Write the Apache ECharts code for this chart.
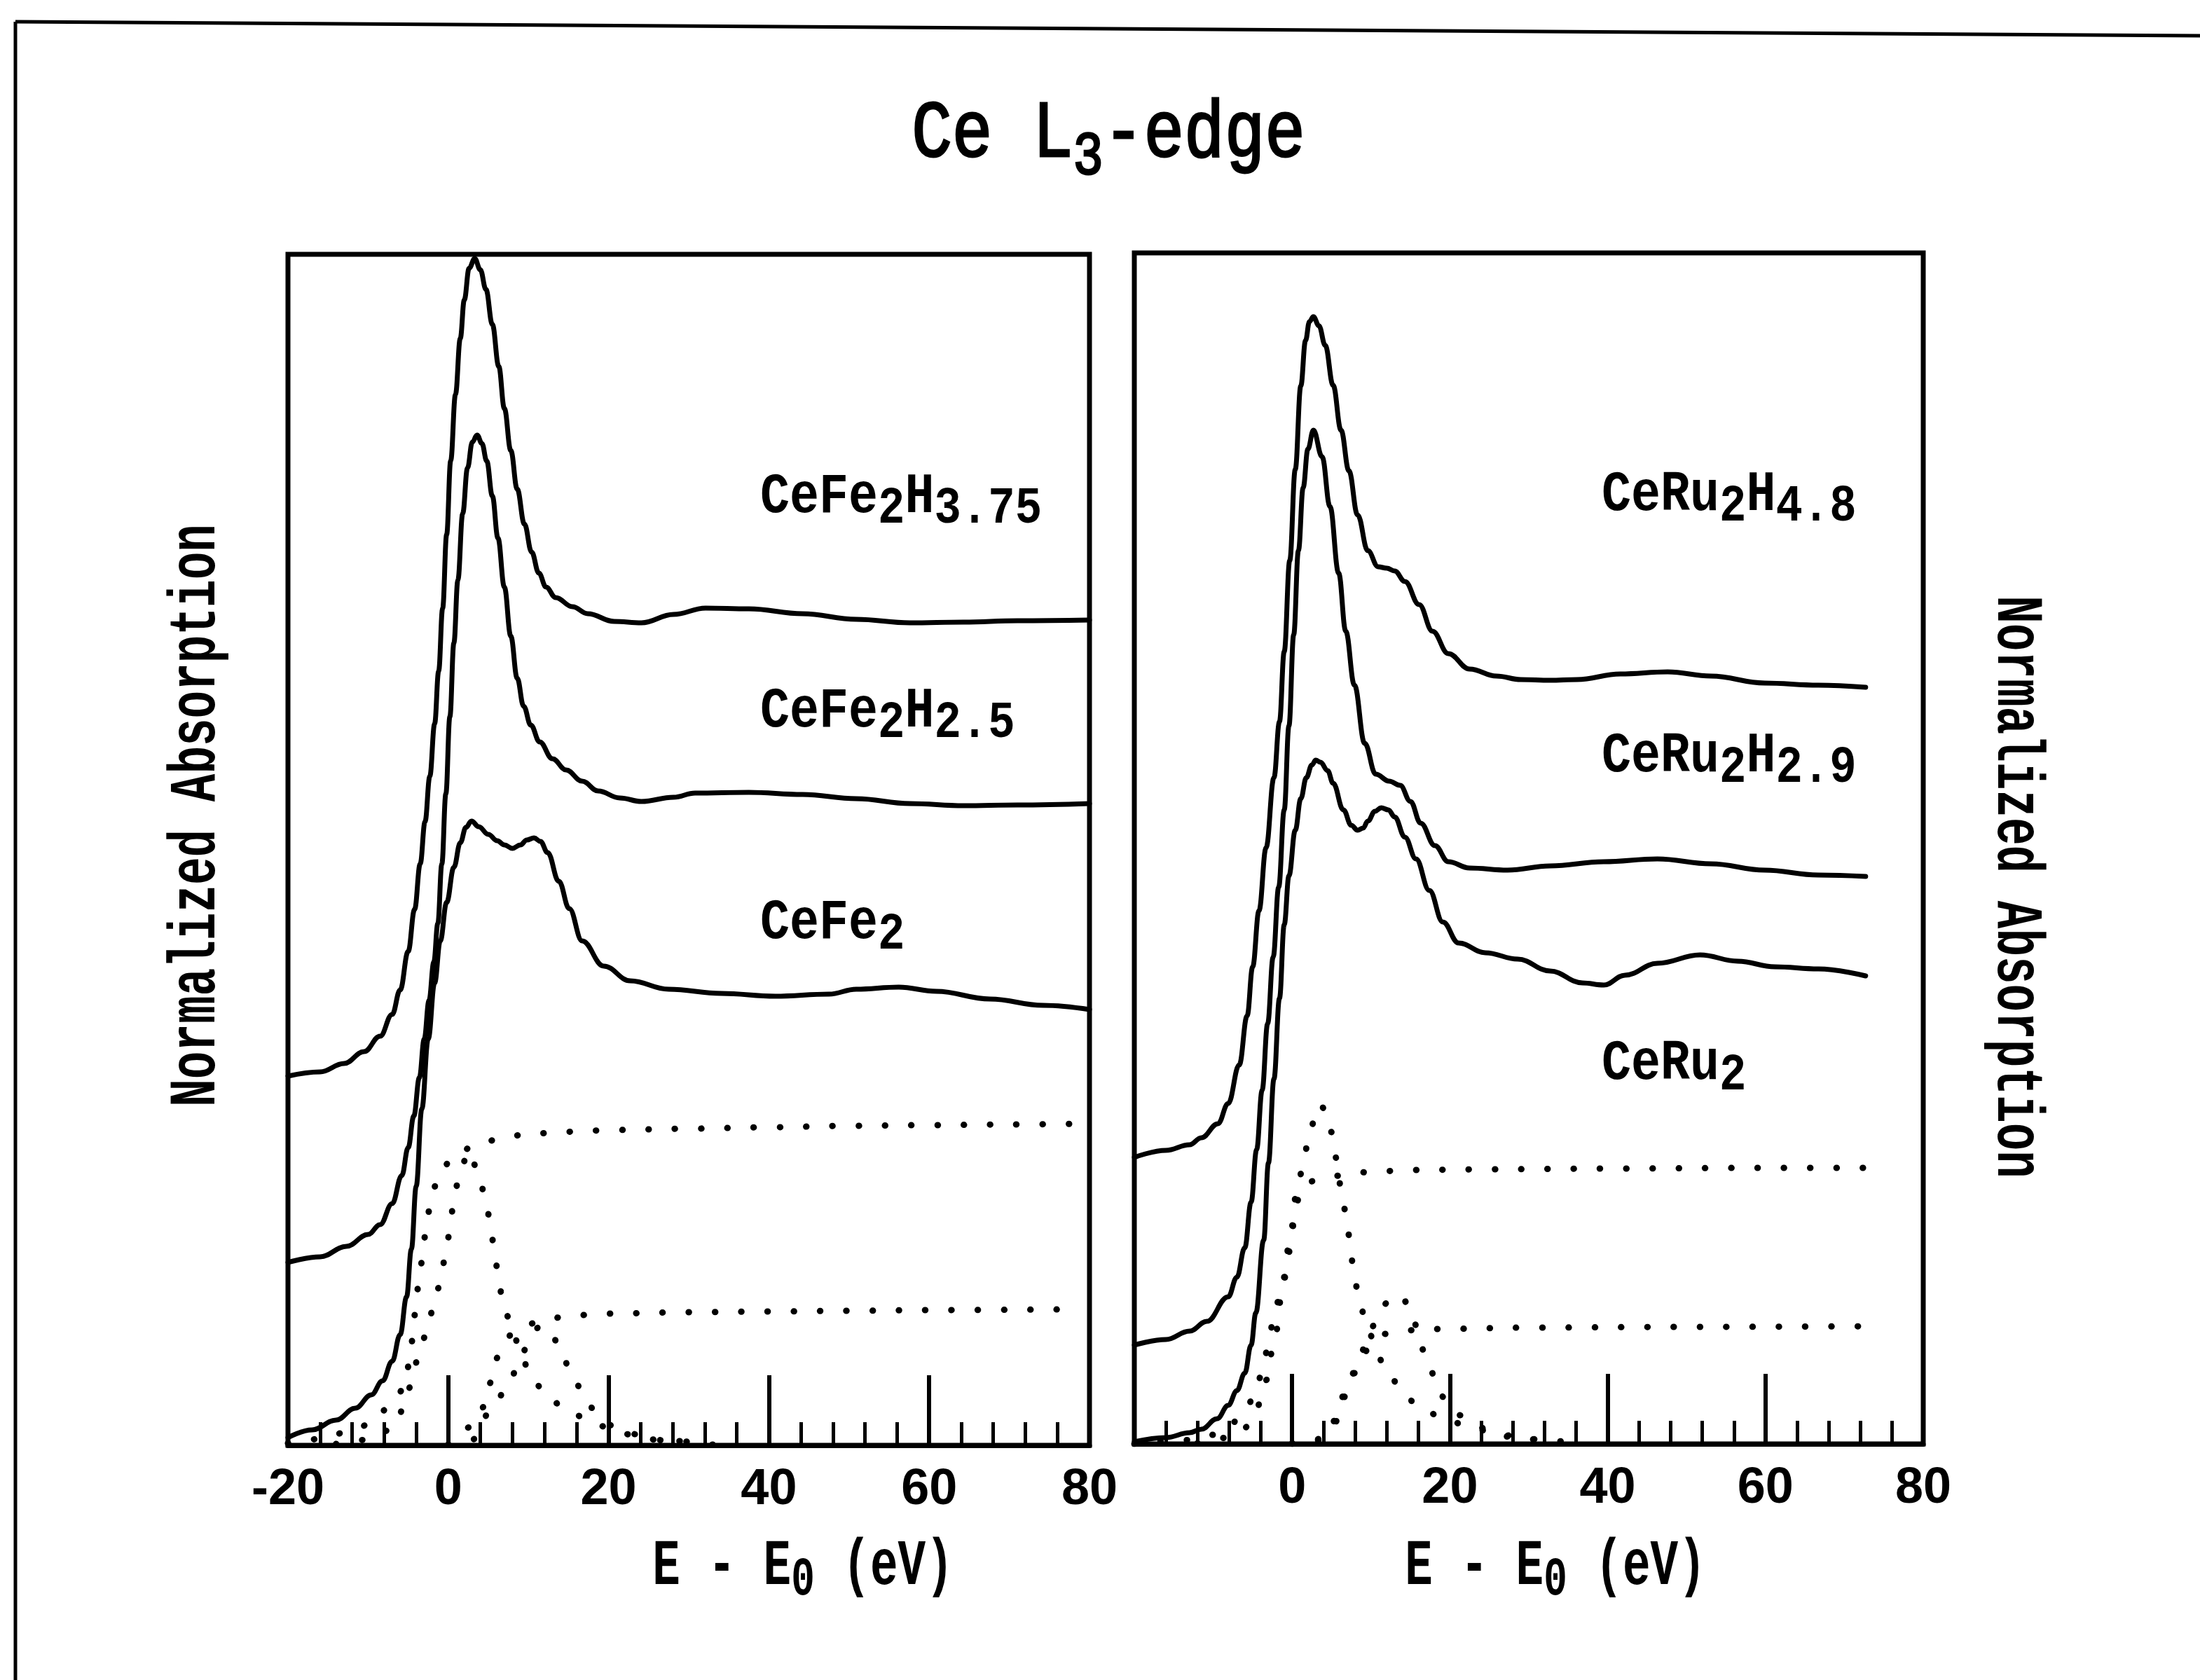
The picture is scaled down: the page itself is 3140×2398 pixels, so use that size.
<!DOCTYPE html>
<html>
<head>
<meta charset="utf-8">
<script src="https://cdn.jsdelivr.net/npm/echarts@6/dist/echarts.min.js"></script>
<style>
  html, body { margin: 0; padding: 0; background: #ffffff; }
  #chart { width: 3140px; height: 2398px; }
</style>
</head>
<body>
<div id="chart"></div>
<script>
// Energy axis, E - E0 (eV), shared by both panels
const energyTicks = [-20, 0, 20, 40, 60, 80];

// Absorption traces are stacked with vertical offsets (arbitrary units, 0..17 per panel)

// ---- CeFe2 hydrides ----
const feH375E = [-20, -16, -13, -10.5, -8.5, -7.0, -6.0, -5.0, -4.2, -3.5, -2.9, -2.3, -1.7, -1.2, -0.7, -0.2, 0.3, 0.9, 1.5, 2.0, 2.6, 3.3, 4.0, 4.7, 5.5, 6.3, 7.0, 7.8, 8.6, 9.5, 10.4, 11.3, 12.2, 13.4, 15.5, 17.4, 20.7, 24.1, 28.1, 32.1, 37.5, 44.2, 50.9, 57.6, 64.3, 71, 80];
const feH375 = [5.27, 5.33, 5.45, 5.62, 5.84, 6.15, 6.50, 7.05, 7.65, 8.30, 8.90, 9.55, 10.30, 11.05, 11.95, 13.00, 14.05, 15.00, 15.80, 16.35, 16.80, 16.94, 16.78, 16.50, 16.00, 15.40, 14.80, 14.20, 13.65, 13.15, 12.75, 12.45, 12.25, 12.10, 11.97, 11.87, 11.76, 11.74, 11.86, 11.95, 11.94, 11.87, 11.79, 11.74, 11.75, 11.77, 11.78];

const feH25E = [-20, -16, -12.7, -10, -8.5, -7.0, -5.8, -5.0, -4.3, -3.6, -3.0, -2.4, -1.8, -1.3, -0.8, -0.3, 0.2, 0.7, 1.2, 1.8, 2.4, 3.0, 3.6, 4.2, 4.8, 5.5, 6.2, 7.0, 7.8, 8.6, 9.4, 10.3, 11.4, 13.0, 14.7, 16.7, 18.7, 21.4, 24.1, 28.1, 30.8, 37.5, 44.2, 50.9, 57.6, 64.3, 71, 80];
const feH25 = [2.61, 2.69, 2.84, 3.01, 3.15, 3.45, 3.85, 4.25, 4.70, 5.25, 5.80, 6.35, 6.90, 7.45, 8.30, 9.30, 10.40, 11.45, 12.35, 13.30, 13.95, 14.32, 14.42, 14.30, 14.05, 13.55, 12.95, 12.25, 11.55, 10.95, 10.55, 10.28, 10.04, 9.80, 9.64, 9.48, 9.34, 9.24, 9.19, 9.25, 9.31, 9.32, 9.29, 9.23, 9.16, 9.13, 9.14, 9.16];

const fe2E = [-20, -17, -14, -11.6, -9.6, -8.2, -7.0, -6.0, -5.2, -4.6, -4.0, -3.3, -2.5, -1.7, -1.0, -0.2, 0.7, 1.5, 2.2, 2.9, 3.8, 5.0, 6.1, 7.0, 8.0, 9.0, 9.8, 10.7, 11.5, 12.4, 13.8, 15.1, 16.7, 19.4, 22.7, 27.5, 34.1, 40.8, 47.5, 50.9, 56.2, 60.9, 67.6, 74.2, 80];
const fe2 = [0.11, 0.22, 0.36, 0.53, 0.72, 0.92, 1.20, 1.58, 2.12, 2.80, 3.70, 4.80, 5.80, 6.60, 7.20, 7.75, 8.25, 8.60, 8.82, 8.91, 8.83, 8.72, 8.63, 8.57, 8.52, 8.57, 8.64, 8.67, 8.62, 8.46, 8.05, 7.66, 7.20, 6.84, 6.63, 6.51, 6.45, 6.41, 6.44, 6.51, 6.54, 6.48, 6.37, 6.28, 6.22];

// CeFe2 fit components: two arctangent steps and two white-line peaks
const feStepAE = [-20, -16, -12, -9, -7.6, -6.5, -5.5, -4.8, -4.4, -4.1, -3.7, -3.2, -2.8, -2.2, -1.3, 0.6, 3.5, 6.6, 9.7, 13, 16.1, 20, 30, 40, 50, 60, 70, 79];
const feStepA = [0.03, 0.09, 0.21, 0.35, 0.54, 0.68, 0.83, 1.20, 1.57, 1.94, 2.31, 2.68, 3.09, 3.46, 3.83, 4.12, 4.29, 4.38, 4.44, 4.46, 4.48, 4.50, 4.52, 4.54, 4.56, 4.57, 4.58, 4.59];
const fePeakAE = [-14, -10, -7, -5.5, -4.6, -3.9, -2.8, -1.9, -1.0, -0.4, 0.2, 0.6, 1.3, 2.5, 3.8, 4.6, 5.3, 5.7, 6.3, 6.8, 8.1, 9.0, 10.5, 12.5, 15.4, 18.7, 22, 26, 32];
const fePeakA = [0.02, 0.08, 0.23, 0.53, 0.88, 1.20, 1.57, 1.94, 2.31, 2.68, 3.05, 3.42, 3.81, 4.20, 3.90, 3.53, 3.16, 2.79, 2.38, 2.01, 1.63, 1.29, 0.94, 0.66, 0.45, 0.28, 0.16, 0.08, 0.02];
const feStepBE = [0, 2.8, 4.6, 5.4, 6.3, 7.9, 9.0, 10.1, 11.4, 14.4, 17, 20, 30, 40, 50, 60, 77];
const feStepB = [0.01, 0.26, 0.56, 0.93, 1.30, 1.58, 1.68, 1.73, 1.78, 1.83, 1.86, 1.88, 1.90, 1.91, 1.92, 1.93, 1.94];
const fePeakBE = [0, 3, 5.4, 7.3, 8.8, 10.1, 11.5, 12.8, 13.8, 15.3, 16.9, 18.5, 20.5, 23, 27, 33];
const fePeakB = [0.01, 0.08, 0.51, 0.81, 1.15, 1.51, 1.71, 1.63, 1.41, 1.06, 0.72, 0.45, 0.28, 0.16, 0.07, 0.01];

// ---- CeRu2 hydrides ----
const ruH48E = [-20, -16, -13, -11.5, -9.4, -8.1, -6.7, -5.7, -5.0, -4.2, -3.3, -2.3, -1.6, -1.0, -0.3, 0.4, 1.1, 1.7, 2.2, 2.7, 3.4, 4.2, 5.2, 6.2, 7.2, 8.3, 9.6, 10.9, 12.0, 13.0, 14.3, 16.1, 17.8, 19.8, 22.5, 25.9, 29, 32.7, 36.1, 41.6, 47.6, 53.1, 59.9, 66.7, 72.7];
const ruH48 = [4.09, 4.19, 4.27, 4.37, 4.57, 4.86, 5.41, 6.11, 6.81, 7.61, 8.51, 9.51, 10.31, 11.31, 12.61, 13.91, 15.10, 15.75, 16.02, 16.09, 15.96, 15.68, 15.11, 14.47, 13.89, 13.26, 12.75, 12.52, 12.50, 12.46, 12.31, 11.98, 11.60, 11.28, 11.06, 10.96, 10.91, 10.90, 10.91, 10.99, 11.02, 10.96, 10.86, 10.83, 10.80];

const ruH29E = [-20, -16, -13, -10.8, -8.1, -7.0, -6.0, -5.2, -4.5, -3.8, -3.1, -2.4, -1.7, -1.0, -0.4, 0.2, 0.8, 1.4, 2.0, 2.7, 3.8, 4.8, 5.9, 6.8, 7.9, 9.2, 10.6, 12.3, 13.7, 15.0, 16.3, 18.1, 19.8, 22.5, 27.3, 32.7, 39.5, 46.3, 53.1, 59.9, 66.7, 72.7];
const ruH29 = [1.41, 1.49, 1.61, 1.75, 2.10, 2.38, 2.80, 3.45, 4.20, 5.05, 6.00, 6.95, 7.95, 9.05, 10.25, 11.55, 12.75, 13.65, 14.20, 14.47, 14.09, 13.38, 12.43, 11.60, 10.83, 10.00, 9.56, 9.46, 9.40, 9.17, 8.86, 8.54, 8.31, 8.22, 8.19, 8.25, 8.31, 8.35, 8.28, 8.19, 8.12, 8.10];

const ru2E = [-20, -16, -13, -11.5, -9.5, -8.1, -7.0, -6.0, -5.2, -4.6, -3.6, -3.0, -2.3, -1.6, -1.0, -0.4, 0.4, 1.1, 1.8, 2.5, 3.0, 3.6, 4.5, 5.2, 6.5, 7.5, 8.3, 9.0, 9.6, 10.5, 11.3, 12.2, 13.0, 14.3, 15.7, 17.4, 19.1, 21.1, 24.5, 28.6, 32.7, 36.8, 39.5, 42.2, 46.3, 51.7, 56.5, 61.2, 66.7, 72.7];
const ru2 = [0.03, 0.09, 0.16, 0.21, 0.36, 0.55, 0.76, 1.01, 1.41, 1.87, 2.91, 4.01, 5.21, 6.36, 7.41, 8.11, 8.76, 9.21, 9.51, 9.69, 9.76, 9.73, 9.61, 9.43, 9.05, 8.83, 8.76, 8.79, 8.89, 9.03, 9.08, 9.05, 8.95, 8.66, 8.35, 7.90, 7.45, 7.15, 7.01, 6.92, 6.75, 6.58, 6.55, 6.69, 6.86, 6.98, 6.89, 6.81, 6.78, 6.68];

// CeRu2 fit components
const ruStepAE = [-20, -14, -10, -8, -6, -4.7, -3.6, -3.0, -2.3, -1.4, -0.6, -0.1, 0.4, 1.1, 2.0, 3.1, 6.2, 9.6, 15, 25, 40, 60, 75];
const ruStepA = [0.00, 0.05, 0.13, 0.26, 0.46, 0.71, 1.12, 1.47, 1.81, 2.21, 2.56, 2.96, 3.33, 3.66, 3.73, 3.77, 3.83, 3.88, 3.91, 3.92, 3.93, 3.94, 3.94];
const ruPeakAE = [-12, -8, -6, -4.5, -3.3, -2.2, -1.2, -0.3, 0.6, 1.6, 2.1, 3.5, 4.5, 5.0, 5.6, 6.2, 6.8, 7.3, 7.7, 8.3, 9.2, 10.4, 11.6, 13.9, 15.8, 19.0, 22.5, 26, 30, 36];
const ruPeakA = [0.01, 0.09, 0.23, 0.51, 0.91, 1.51, 2.21, 2.91, 3.61, 4.11, 4.45, 4.85, 4.71, 4.45, 4.08, 3.65, 3.30, 2.93, 2.56, 2.19, 1.81, 1.46, 1.12, 0.78, 0.55, 0.38, 0.24, 0.14, 0.07, 0.01];
const ruStepBE = [0, 3, 5, 5.7, 6.8, 7.9, 9.1, 10.5, 11.8, 14, 18.4, 30, 50, 74];
const ruStepB = [0.01, 0.06, 0.21, 0.33, 0.69, 1.01, 1.31, 1.48, 1.57, 1.62, 1.64, 1.66, 1.67, 1.68];
const ruPeakBE = [0, 3, 5.0, 5.7, 7.0, 8.2, 9.5, 10.8, 12.0, 13.7, 14.9, 15.4, 16.2, 17.5, 18.5, 19.8, 21.2, 23, 25, 28, 33];
const ruPeakB = [0.00, 0.04, 0.21, 0.51, 0.81, 1.11, 1.46, 1.81, 2.01, 2.13, 1.96, 1.78, 1.41, 1.07, 0.76, 0.56, 0.41, 0.28, 0.19, 0.09, 0.02];

// ---- helpers ----
const INK = '#000000';
const MONO = 'Liberation Mono';
const pairs = (xs, ys) => xs.map((x, i) => [x, ys[i]]);

function solidTrace(name, panel, xs, ys) {
  return {
    type: 'line', name, xAxisIndex: panel, yAxisIndex: panel,
    data: pairs(xs, ys), showSymbol: false, symbol: 'none',
    smooth: 0.4, smoothMonotone: 'x', clip: true,
    lineStyle: { color: INK, width: 7, cap: 'round', join: 'round' },
    z: 4, silent: true
  };
}
function dottedTrace(name, panel, xs, ys) {
  return {
    type: 'line', name, xAxisIndex: panel, yAxisIndex: panel,
    data: pairs(xs, ys), showSymbol: false, symbol: 'none',
    smooth: 0.35, smoothMonotone: 'x', clip: true,
    lineStyle: { color: INK, width: 9, type: [0.5, 37], cap: 'round' },
    z: 3, silent: true
  };
}

function energyAxis(panel, hideFirst) {
  return {
    type: 'value', gridIndex: panel,
    min: energyTicks[0], max: energyTicks[energyTicks.length - 1], interval: 20,
    axisLine: { show: true, onZero: false, lineStyle: { color: INK, width: 7 } },
    axisTick: { show: true, inside: true, length: 100, lineStyle: { color: INK, width: 6 } },
    minorTick: { show: true, splitNumber: 5, length: 33, lineStyle: { color: INK, width: 5 } },
    splitLine: { show: false }, minorSplitLine: { show: false },
    axisLabel: {
      show: true, margin: 28, color: INK,
      fontFamily: 'Liberation Sans', fontWeight: 'bold', fontSize: 72,
      formatter: v => (hideFirst && v === energyTicks[0]) ? '' : String(v)
    }
  };
}
function absorptionAxis(panel) {
  return { type: 'value', gridIndex: panel, min: 0, max: 17, show: false };
}

// stretched typewriter-style text block with optional subscripts
function typeText(x, y, parts, opt) {
  const ink = opt.outline ? { stroke: INK, lineWidth: opt.outline } : {};
  const rich = {
    m: Object.assign({ fontFamily: MONO, fontWeight: opt.weight, fontSize: opt.size, fill: INK, verticalAlign: 'top' }, ink),
    s: Object.assign({ fontFamily: MONO, fontWeight: opt.weight, fontSize: opt.subSize, fill: INK, verticalAlign: 'top',
         padding: [opt.subDrop, 0, 0, 0] }, ink)
  };
  const text = parts.map(p => (p.sub ? '{s|' : '{m|') + p.t + '}').join('');
  return {
    type: 'text', x, y, scaleY: opt.stretch, silent: true, z: 10,
    style: { text, rich, fill: INK, align: opt.align || 'left', verticalAlign: 'top' }
  };
}

const sampleLabelOpt = { weight: 'bold', size: 70, subSize: 64, subDrop: 18, stretch: 1.17 };
const eAxisTitleOpt = { weight: 'bold', size: 66, subSize: 56, subDrop: 18, stretch: 1.4, align: 'center' };
const eAxisTitle = [{ t: 'E - E' }, { t: '0', sub: true }, { t: ' (eV)' }];

function sideTitle(x, y, rotation) {
  return {
    type: 'text', x, y, rotation, scaleY: 1.42, silent: true, z: 10,
    style: {
      text: 'Normalized Absorption', fill: INK,
      fontFamily: MONO, fontWeight: 'bold', fontSize: 66,
      align: 'center', verticalAlign: 'middle'
    }
  };
}

const option = {
  backgroundColor: '#ffffff',
  animation: false,
  grid: [
    { left: 411, top: 363, width: 1144, height: 1700, show: true, borderColor: INK, borderWidth: 7, backgroundColor: 'transparent' },
    { left: 1619, top: 361, width: 1126, height: 1700, show: true, borderColor: INK, borderWidth: 7, backgroundColor: 'transparent' }
  ],
  xAxis: [energyAxis(0, false), energyAxis(1, true)],
  yAxis: [absorptionAxis(0), absorptionAxis(1)],
  series: [
    solidTrace('CeFe2H3.75', 0, feH375E, feH375),
    solidTrace('CeFe2H2.5', 0, feH25E, feH25),
    solidTrace('CeFe2', 0, fe2E, fe2),
    dottedTrace('CeFe2 step 1', 0, feStepAE, feStepA),
    dottedTrace('CeFe2 peak 1', 0, fePeakAE, fePeakA),
    dottedTrace('CeFe2 step 2', 0, feStepBE, feStepB),
    dottedTrace('CeFe2 peak 2', 0, fePeakBE, fePeakB),
    solidTrace('CeRu2H4.8', 1, ruH48E, ruH48),
    solidTrace('CeRu2H2.9', 1, ruH29E, ruH29),
    solidTrace('CeRu2', 1, ru2E, ru2),
    dottedTrace('CeRu2 step 1', 1, ruStepAE, ruStepA),
    dottedTrace('CeRu2 peak 1', 1, ruPeakAE, ruPeakA),
    dottedTrace('CeRu2 step 2', 1, ruStepBE, ruStepB),
    dottedTrace('CeRu2 peak 2', 1, ruPeakBE, ruPeakB)
  ],
  graphic: [
    // page frame (top and left edges)
    { type: 'line', silent: true, shape: { x1: 22, y1: 31, x2: 3140, y2: 51 }, style: { stroke: INK, lineWidth: 5 } },
    { type: 'line', silent: true, shape: { x1: 22, y1: 31, x2: 22, y2: 2398 }, style: { stroke: INK, lineWidth: 5 } },

    // main title
    typeText(1582, 135, [{ t: 'Ce L' }, { t: '3', sub: true }, { t: '-edge' }],
      { weight: 'normal', size: 96, subSize: 72, subDrop: 39, stretch: 1.2, align: 'center', outline: 2.5 }),

    // sample labels, CeFe2 panel
    typeText(1085, 669, [{ t: 'CeFe' }, { t: '2', sub: true }, { t: 'H' }, { t: '3.75', sub: true }], sampleLabelOpt),
    typeText(1085, 975, [{ t: 'CeFe' }, { t: '2', sub: true }, { t: 'H' }, { t: '2.5', sub: true }], sampleLabelOpt),
    typeText(1085, 1277, [{ t: 'CeFe' }, { t: '2', sub: true }], sampleLabelOpt),

    // sample labels, CeRu2 panel
    typeText(2286, 666, [{ t: 'CeRu' }, { t: '2', sub: true }, { t: 'H' }, { t: '4.8', sub: true }], sampleLabelOpt),
    typeText(2286, 1039, [{ t: 'CeRu' }, { t: '2', sub: true }, { t: 'H' }, { t: '2.9', sub: true }], sampleLabelOpt),
    typeText(2286, 1478, [{ t: 'CeRu' }, { t: '2', sub: true }], sampleLabelOpt),

    // energy axis titles
    typeText(1146, 2192, eAxisTitle, eAxisTitleOpt),
    typeText(2220, 2192, eAxisTitle, eAxisTitleOpt),

    // side titles
    sideTitle(282, 1164, Math.PI / 2),
    sideTitle(2876, 1266, -Math.PI / 2)
  ]
};

const chart = echarts.init(document.getElementById('chart'), null, { renderer: 'canvas' });
chart.setOption(option);
</script>
</body>
</html>
